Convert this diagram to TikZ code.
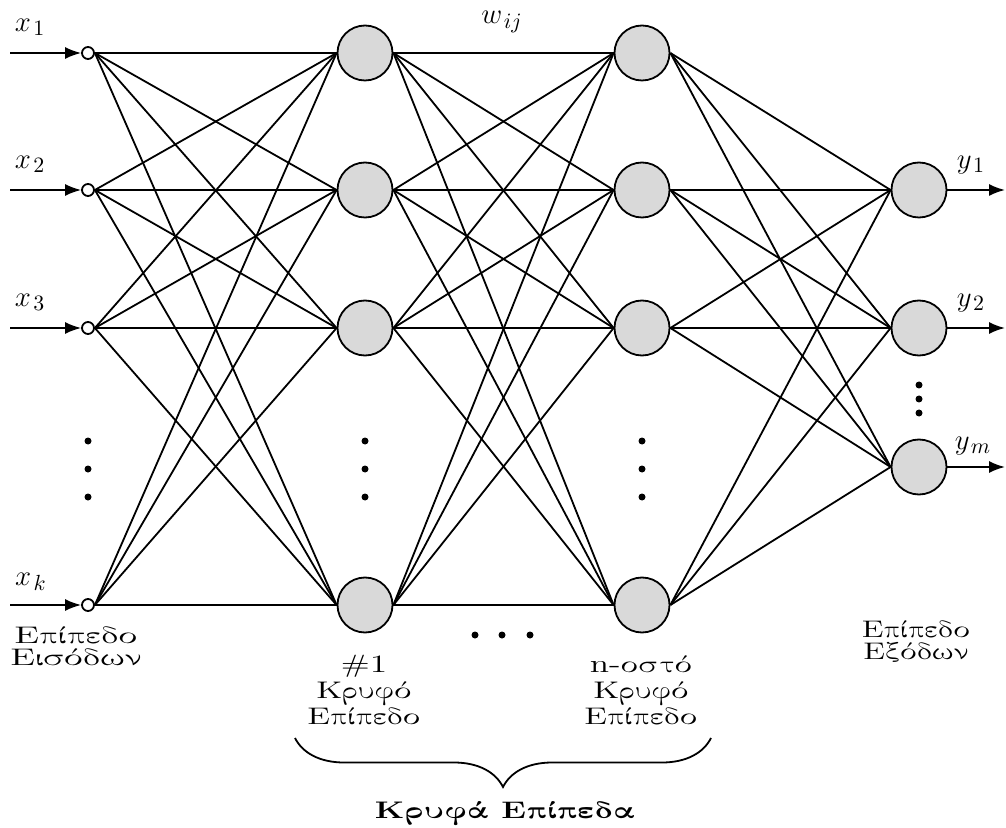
\documentclass[tikz,border=0pt]{standalone}
\usepackage[LGR,TU]{fontenc}
\usepackage{graphicx}
\usetikzlibrary{arrows.meta,decorations.pathreplacing}
\newcommand{\gr}{\fontencoding{LGR}\fontfamily{cmr}\selectfont}
\newcommand{\hstretch}[2]{\scalebox{#1}[1]{#2}}
\DeclareMathSizes{14}{14}{10.5}{8}
\begin{document}
\begin{tikzpicture}[x=0.5pt,y=-0.5pt,
  wire/.style={line width=0.9pt},
  arrowline/.style={wire,-{Latex[length=8pt,width=6pt]}},
  inunit/.style={circle,draw,line width=0.9pt,fill=white,inner sep=0pt,minimum size=6pt},
  neuron/.style={circle,draw,line width=0.9pt,fill=gray!30,inner sep=0pt,minimum size=27.5pt},
  lbl/.style={inner sep=0pt,align=center},
  sig/.style={lbl,font=\fontsize{14}{14}\selectfont},
  twoline/.style={lbl,font=\fontsize{12.5}{11}\selectfont\gr},
  threeline/.style={lbl,font=\fontsize{12.5}{13}\selectfont\gr},
  dot/.style={circle,fill=black,inner sep=0pt,minimum size=3.5pt}]
\useasboundingbox (0,0) rectangle (1006,828);

% input units
\foreach \k/\y in {1/53,2/190,3/328,4/605}
  \node[inunit] (i\k) at (88,\y) {};
% first hidden layer
\foreach \k/\y in {1/53,2/190,3/328,4/605}
  \node[neuron] (h\k) at (365,\y) {};
% n-th hidden layer
\foreach \k/\y in {1/53,2/190,3/328,4/605}
  \node[neuron] (n\k) at (642,\y) {};
% output layer
\foreach \k/\y in {1/190,2/328,3/467}
  \node[neuron] (o\k) at (919,\y) {};

% weights
\foreach \a in {1,2,3,4}
  \foreach \b in {1,2,3,4}
    \draw[wire] (i\a.east) -- (h\b.west);
\foreach \a in {1,2,3,4}
  \foreach \b in {1,2,3,4}
    \draw[wire] (h\a.east) -- (n\b.west);
\foreach \a in {1,2,3,4}
  \foreach \b in {1,2,3}
    \draw[wire] (n\a.east) -- (o\b.west);

% input arrows
\foreach \k/\y in {1/53,2/190,3/328,4/605} {
  \coordinate (s\k) at (10,\y);
  \draw[arrowline] (s\k) -- (i\k.west);
}
% output arrows
\foreach \k/\y in {1/190,2/328,3/467} {
  \coordinate (t\k) at (1005,\y);
  \draw[arrowline] (o\k.east) -- (t\k);
}

% signal labels
\node[sig] (lx1) at (30,27) {$x_{\mkern2mu 1}$};
\node[sig] (lx2) at (30,164) {$x_{\mkern2mu 2}$};
\node[sig] (lx3) at (30,302) {$x_{\mkern2mu 3}$};
\node[sig] (lxk) at (31,582) {$x_{\mkern2mu k}$};
\node[sig] (ly1) at (971,165) {$y_{\mkern2mu 1}$};
\node[sig] (ly2) at (971,303) {$y_{\mkern2mu 2}$};
\node[sig] (lym) at (973,446) {$y_{\mkern2mu m}$};
\node[sig] (lw) at (502,22) {$w_{\mkern2mu ij}$};

% vertical ellipses
\foreach \x/\c in {88/a,365/b,642/c}
  \foreach \y/\r in {441/1,469/2,497/3}
    \node[dot] (d\c\r) at (\x,\y) {};
\foreach \y/\r in {385/1,399/2,413/3}
  \node[dot] (dd\r) at (919,\y) {};
% horizontal ellipsis
\foreach \x/\r in {475/1,502/2,530/3}
  \node[dot] (dh\r) at (\x,635) {};

% layer captions
\node[twoline] (cin) at (76,646) {\hstretch{1.55}{Ep'ipedo}\\\hstretch{1.55}{Eis'odwn}};
\node[threeline] (ch1) at (364,690) {\hstretch{1.42}{\fontencoding{TU}\selectfont\#1}\\\hstretch{1.42}{Kruf'o}\\\hstretch{1.42}{Ep'ipedo}};
\node[threeline] (chn) at (641,690) {\hstretch{1.42}{{\fontencoding{TU}\selectfont n-}ost'o}\\\hstretch{1.42}{Kruf'o}\\\hstretch{1.42}{Ep'ipedo}};
\node[twoline] (cout) at (916,643) {\hstretch{1.36}{Ep'ipedo}\\\hstretch{1.36}{Ex'odwn}};

% brace over the hidden layers
\coordinate (bl) at (295,738);
\coordinate (br) at (711,738);
\draw[wire,decorate,decoration={brace,mirror,amplitude=24.5pt}] (bl) -- (br);
\node[lbl,font=\fontsize{12.5}{13}\selectfont\gr\bfseries] (chid) at (504,813) {\hstretch{1.35}{Kruf'a Ep'ipeda}};
\end{tikzpicture}
\end{document}
